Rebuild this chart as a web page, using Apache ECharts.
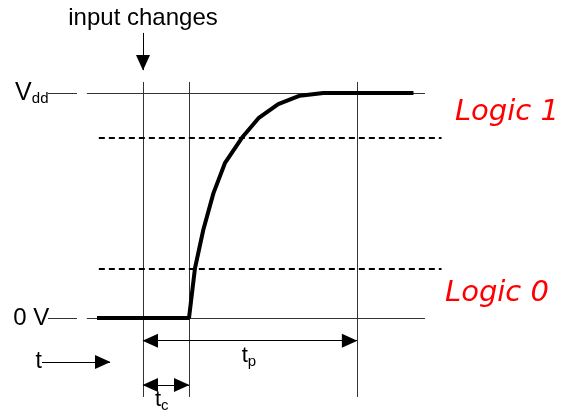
<!doctype html>
<html lang="en">
<head>
    <meta charset="UTF-8">
    <script src="https://cdn.jsdelivr.net/npm/echarts@6/dist/echarts.min.js"></script>
    <title>Logic levels</title>
    <style>
        html, body { margin: 0; padding: 0; background: #fff; }
    </style>
</head>
<body>
<div id="main" style="width: 564px; height: 412px"></div>
<script type="text/javascript">
    // time in units of t_c (input change at 0), voltage as a fraction of Vdd
    var curveT = [-1, 1, 1.13, 1.31, 1.53, 1.78, 2.15, 2.51, 2.94, 3.41, 3.92, 5.88];
    var curveV = [0, 0, 0.221, 0.391, 0.554, 0.688, 0.801, 0.888, 0.951, 0.988, 1, 1];

    var tInput = 0;      // input changes
    var tStart = 1;      // output starts to move (t_c)
    var tSettle = 4.65;  // output settled (t_p)

    var railLevels = [0, 1];           // 0 V and Vdd
    var thresholds = [0.22, 0.8];      // logic 0 / logic 1 limits
    var railSpan = [-1.22, 6.13];
    var thresholdSpan = [-0.96, 6.49];
    var markerSpan = [-0.351, 1.049];

    var labelText = ['input changes', '{m|V}{s|dd}', '0 V', 'Logic 1', 'Logic 0', 't', '{m|t}{s|p}', '{m|t}{s|c}'];
    var labelT = [0, -2.78, -2.04, 6.78, 6.565, -2.2, 2.145, 0.26];
    var labelV = [1.333, 1.0, 0, 0.914, 0.107, -0.196, -0.17, -0.366];

    var curve = [];
    for (var i = 0; i < curveT.length; i++) {
        curve.push([curveT[i], curveV[i]]);
    }

    // thin solid guide lines
    var guides = [];
    railLevels.forEach(function (v) {
        guides.push({coords: [[railSpan[0], v], [railSpan[1], v]]});
        guides.push({coords: [[-2.065, v], [-1.435, v]]});
    });
    [tInput, tStart, tSettle].forEach(function (t) {
        guides.push({coords: [[t, markerSpan[0]], [t, markerSpan[1]]]});
    });

    var dashed = thresholds.map(function (v) {
        return {coords: [[thresholdSpan[0], v], [thresholdSpan[1], v]]};
    });

    var arrowsOne = [
        {coords: [[tInput, 1.267], [tInput, 1.102]]},
        {coords: [[-2.196, -0.196], [-0.717, -0.196]]}
    ];
    var arrowsTwo = [
        {coords: [[tInput, -0.101], [tSettle, -0.101]]},
        {coords: [[tInput, -0.298], [tStart, -0.298]]}
    ];

    // triangle with its tip at the centre of a 30x30 box
    var head = 'path://M-15,-15M15,15M0,0L7,16L-7,16Z';

    var redItalic = {align: 'left', fontSize: 29, fontStyle: 'italic', color: '#ff0000', fontFamily: 'DejaVu Sans'};
    var labelStyles = [
        {align: 'center', fontSize: 24},
        {align: 'left'},
        {align: 'right', fontSize: 24},
        redItalic,
        redItalic,
        {align: 'right', fontSize: 23},
        {align: 'left'},
        {align: 'left'}
    ];
    var labels = labelText.map(function (txt, k) {
        var st = labelStyles[k];
        var big = k === 1;
        return {
            value: [labelT[k], labelV[k]],
            label: {
                show: true,
                formatter: txt,
                position: [0, 0],
                align: st.align,
                verticalAlign: 'middle',
                fontSize: st.fontSize || 20,
                fontStyle: st.fontStyle || 'normal',
                fontFamily: st.fontFamily || 'Liberation Sans',
                color: st.color || '#000',
                opacity: 1,
                rich: {
                    m: {fontSize: big ? 25 : 22, fontFamily: 'Liberation Sans', color: '#000', lineHeight: big ? 26 : 22},
                    s: {fontSize: big ? 15 : 15, fontFamily: 'Liberation Sans', color: '#000', verticalAlign: 'bottom', lineHeight: big ? 26 : 26}
                }
            }
        };
    });

    var mychart = echarts.init(document.getElementById('main'));
    var option = {
        animation: false,
        grid: {left: 5, right: 7, top: 3, bottom: 4},
        xAxis: {
            type: 'value', min: -3, max: 9,
            axisLine: {show: false}, axisTick: {show: false},
            axisLabel: {show: false}, splitLine: {show: false}
        },
        yAxis: {
            type: 'value', min: -0.4, max: 1.4,
            axisLine: {show: false}, axisTick: {show: false},
            axisLabel: {show: false}, splitLine: {show: false}
        },
        series: [
            {
                type: 'lines', coordinateSystem: 'cartesian2d',
                data: guides, symbol: 'none',
                lineStyle: {color: '#333', width: 1, opacity: 1}
            },
            {
                type: 'lines', coordinateSystem: 'cartesian2d',
                data: dashed, symbol: 'none',
                lineStyle: {color: '#000', width: 2, type: [6, 4], opacity: 1}
            },
            {
                type: 'line', data: curve, showSymbol: false, symbol: 'none',
                lineStyle: {color: '#000', width: 4}, z: 5
            },
            {
                type: 'lines', coordinateSystem: 'cartesian2d',
                data: arrowsOne, symbol: ['none', head], symbolSize: 30,
                lineStyle: {color: '#000', width: 1, opacity: 1},
                itemStyle: {color: '#000'}
            },
            {
                type: 'lines', coordinateSystem: 'cartesian2d',
                data: arrowsTwo, symbol: [head, head], symbolSize: 30,
                lineStyle: {color: '#000', width: 1, opacity: 1},
                itemStyle: {color: '#000'}
            },
            {
                type: 'scatter', data: labels, symbolSize: 0, z: 10,
                itemStyle: {opacity: 1}
            }
        ]
    };
    mychart.setOption(option);
</script>
</body>
</html>
